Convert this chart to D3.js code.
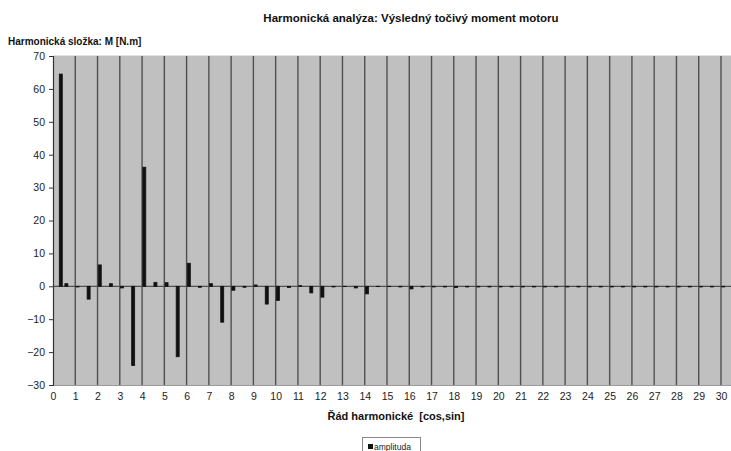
<!DOCTYPE html>
<html>
<head>
<meta charset="utf-8">
<script src="https://cdn.jsdelivr.net/npm/d3@7"></script>
<style>
  body { margin: 0; background: #fff; }
  text { font-family: "Liberation Sans", Arial, sans-serif; }
</style>
</head>
<body>
<svg id="chart" width="731" height="451"></svg>
<script>
// harmonic positions on the axis (cos, sin of each order) and their amplitudes
const harmonicPos = [0.35, 0.6, 1.1, 1.6, 2.1, 2.6, 3.1, 3.6, 4.1, 4.6,
    5.1, 5.6, 6.1, 6.6, 7.1, 7.6, 8.1, 8.6, 9.1, 9.6,
    10.1, 10.6, 11.1, 11.6, 12.1, 12.6, 13.1, 13.6, 14.1, 14.6,
    15.1, 15.6, 16.1, 16.6, 17.1, 17.6, 18.1, 18.6, 19.1, 19.6,
    20.1, 20.6, 21.1, 21.6, 22.1, 22.6, 23.1, 23.6, 24.1, 24.6,
    25.1, 25.6, 26.1, 26.6, 27.1, 27.6, 28.1, 28.6, 29.1, 29.6,
    30.1, 30.6];
const amplitude = [64.5, 0.8, -0.2, -3.9, 6.5, 0.8, -0.5, -24.1, 36.2, 1.2,
    1.1, -21.4, 7.0, -0.3, 0.8, -10.9, -1.2, -0.3, 0.4, -5.4,
    -4.3, -0.4, 0.2, -2.0, -3.3, -0.2, -0.1, -0.5, -2.3, -0.1,
    -0.1, -0.2, -0.8, -0.2, -0.2, -0.2, -0.4, -0.2, -0.2, -0.2,
    -0.2, -0.2, -0.2, -0.2, -0.2, -0.2, -0.2, -0.2, -0.2, -0.2,
    -0.2, -0.2, -0.2, -0.2, -0.2, -0.2, -0.2, -0.2, -0.2, -0.2,
    -0.2, -0.2];
const xTicks = d3.range(0, 31);
const yTicks = [-30, -20, -10, 0, 10, 20, 30, 40, 50, 60, 70];

const chartTitle = "Harmonická analýza: Výsledný točivý moment motoru";
const yTitle = "Harmonická složka: M [N.m]";
const xTitle = "Řád harmonické  [cos,sin]";
const legendLabel = "amplituda";

let svg = d3.select("#chart");
let pLeft = 53, pRight = 731, pTop = 56, pBottom = 385;

let x = d3.scaleLinear().domain([0, 30.45]).range([pLeft, pRight]);
let y = d3.scaleLinear().domain([-30, 70]).range([pBottom, pTop]);

// plot background
svg.append("rect")
    .attr("x", pLeft).attr("y", pTop)
    .attr("width", pRight - pLeft).attr("height", pBottom - pTop)
    .style("fill", "#c0c0c0");
svg.append("line")
    .attr("x1", pLeft).attr("x2", pRight)
    .attr("y1", pTop - 0.5).attr("y2", pTop - 0.5)
    .style("stroke", "#e2e2e2").style("stroke-width", 1);

// vertical grid lines
svg.selectAll(".vgrid")
    .data(xTicks.slice(1))
    .enter().append("line")
    .attr("class", "vgrid")
    .attr("x1", d => x(d)).attr("x2", d => x(d))
    .attr("y1", pTop).attr("y2", pBottom)
    .style("stroke", "#505050").style("stroke-width", 1.4);

// zero line
svg.append("line")
    .attr("x1", pLeft).attr("x2", pRight)
    .attr("y1", y(0)).attr("y2", y(0))
    .style("stroke", "#505050").style("stroke-width", 1.2);

// bars
let data = harmonicPos.map((p, i) => ({pos: p, val: amplitude[i]}));
svg.selectAll(".bar")
    .data(data)
    .enter().append("rect")
    .attr("class", "bar")
    .attr("x", d => x(d.pos) - 1.5)
    .attr("width", 3)
    .attr("y", d => y(Math.max(0, d.val)))
    .attr("height", d => Math.abs(y(d.val) - y(0)))
    .style("fill", "#111")
    .style("stroke", "#111")
    .style("stroke-width", 0.8);

// bottom edge
svg.append("line")
    .attr("x1", pLeft).attr("x2", pRight)
    .attr("y1", pBottom + 0.5).attr("y2", pBottom + 0.5)
    .style("stroke", "#999").style("stroke-width", 1);

// y axis
let yAxis = d3.axisLeft(y).tickValues(yTicks).tickSize(4).tickPadding(4);
let yg = svg.append("g")
    .attr("transform", "translate(" + pLeft + ",0)")
    .call(yAxis);
yg.select(".domain").style("stroke", "#333").style("stroke-width", 1.2);
yg.selectAll(".tick line").style("stroke", "#333");
yg.selectAll("text")
    .style("font-size", "10.5px")
    .style("fill", "#222");

// x axis labels
let xAxis = d3.axisBottom(x).tickValues(xTicks).tickSize(0).tickPadding(8);
let xg = svg.append("g")
    .attr("transform", "translate(0," + pBottom + ")")
    .call(xAxis);
xg.select(".domain").remove();
xg.selectAll("text")
    .style("font-size", "10.5px")
    .style("fill", "#222");

// titles
svg.append("text")
    .text(chartTitle)
    .attr("x", 411).attr("y", 22)
    .attr("text-anchor", "middle")
    .style("font-size", "11.5px")
    .style("font-weight", "bold")
    .style("fill", "#111");

svg.append("text")
    .text(yTitle)
    .attr("x", 8).attr("y", 45)
    .style("font-size", "10px")
    .style("font-weight", "bold")
    .style("fill", "#111");

svg.append("text")
    .text(xTitle)
    .attr("x", 396).attr("y", 420)
    .attr("text-anchor", "middle")
    .style("font-size", "11px")
    .style("font-weight", "bold")
    .style("white-space", "pre")
    .style("fill", "#111");

// legend
let lg = svg.append("g").attr("transform", "translate(362,437)");
lg.append("rect")
    .attr("x", 0.5).attr("y", 0.5)
    .attr("width", 58).attr("height", 20)
    .style("fill", "#fff")
    .style("stroke", "#888");
lg.append("rect")
    .attr("x", 6).attr("y", 7)
    .attr("width", 5).attr("height", 5)
    .style("fill", "#111");
lg.append("text")
    .text(legendLabel)
    .attr("x", 12).attr("y", 13)
    .style("font-size", "8.5px")
    .style("fill", "#222");
</script>
</body>
</html>
